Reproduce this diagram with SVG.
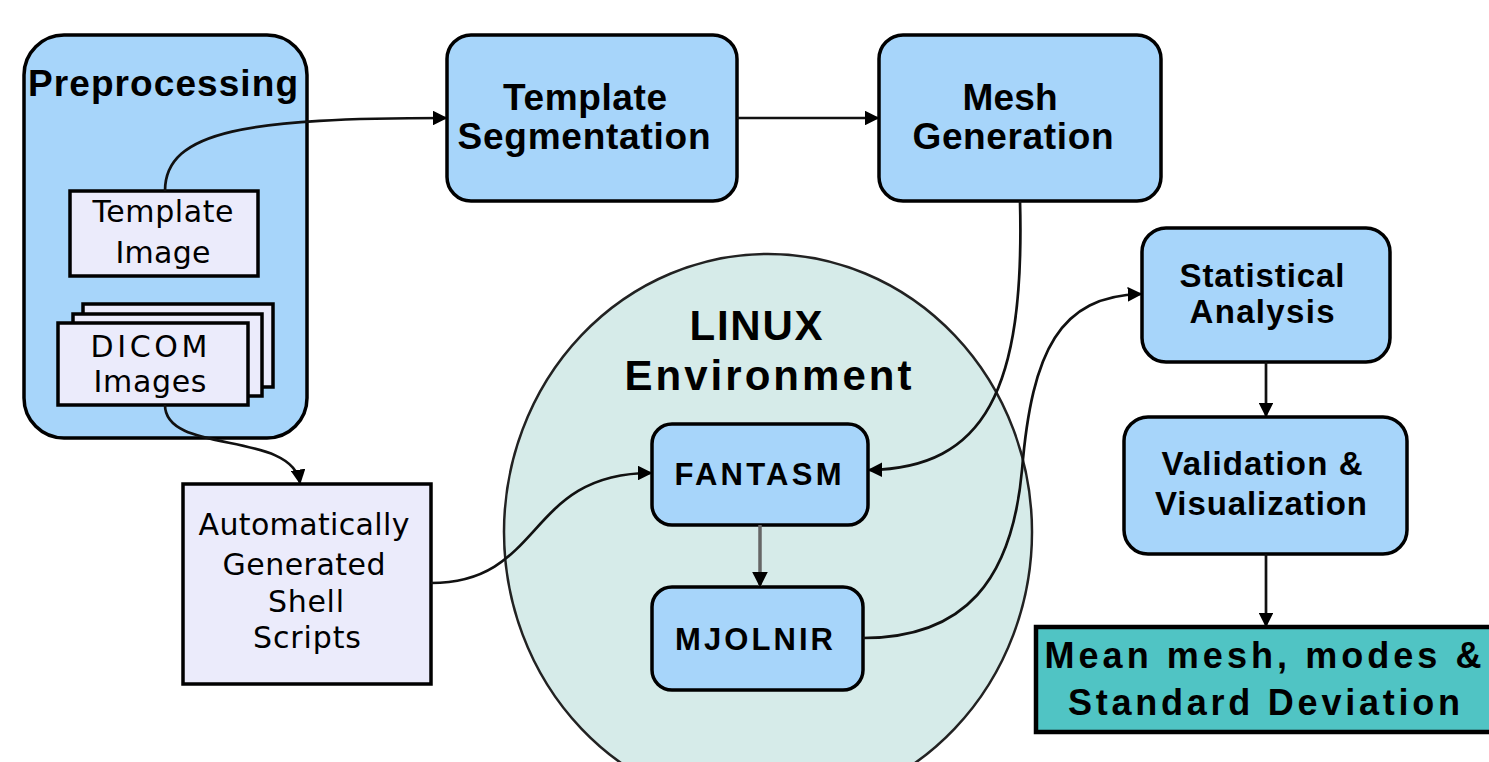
<svg xmlns="http://www.w3.org/2000/svg" width="1489" height="762" viewBox="0 0 1489 762">
<style>
.bg{fill:#ffffff}
.blue{fill:#a7d5fa;stroke:#000;stroke-width:3.5}
.lav{fill:#ebebfb;stroke:#000;stroke-width:3.5}
.env{fill:#d6ebe9;stroke:#222;stroke-width:2.5}
.teal{fill:#50c4c4;stroke:#000;stroke-width:4.5}
.tb{font-family:"Liberation Sans",Arial,sans-serif;font-weight:bold;fill:#000;text-anchor:middle}
.tr{font-family:"DejaVu Sans","Liberation Sans",sans-serif;font-weight:normal;fill:#000;text-anchor:middle;font-size:30px}
.c{fill:none;stroke:#111;stroke-width:2.7}
.cg{fill:none;stroke:#666;stroke-width:3.5}
</style>
<defs>
<marker id="ah" viewBox="0 0 10 10" refX="9" refY="5" markerWidth="5.5" markerHeight="5.5" markerUnits="strokeWidth" orient="auto">
<path d="M0,0 L10,5 L0,10 Z" fill="#000"/>
</marker>
<marker id="ahg" viewBox="0 0 10 10" refX="9" refY="5" markerWidth="4.5" markerHeight="4.5" markerUnits="strokeWidth" orient="auto">
<path d="M0,0 L10,5 L0,10 Z" fill="#000"/>
</marker>
</defs>
<rect class="bg" x="0" y="0" width="1489" height="762"/>

<g id="preprocessing">
<rect class="blue" x="24" y="35" width="283" height="403" rx="40" ry="40"/>
<text class="tb" x="163" y="96" font-size="37" textLength="270" lengthAdjust="spacing">Preprocessing</text>
</g>

<g id="template-image">
<rect class="lav" x="70" y="191" width="188" height="85"/>
<text class="tr" x="163" y="222" textLength="141" lengthAdjust="spacing">Template</text>
<text class="tr" x="163" y="263" textLength="95" lengthAdjust="spacing">Image</text>
</g>

<g id="dicom-images">
<rect class="lav" x="83" y="304" width="190" height="83"/>
<rect class="lav" x="73" y="314" width="189" height="82"/>
<rect class="lav" x="58" y="323" width="190" height="82"/>
<text class="tr" x="149" y="357" textLength="117" lengthAdjust="spacing">DICOM</text>
<text class="tr" x="150" y="392" textLength="113" lengthAdjust="spacing">Images</text>
</g>

<g id="template-segmentation">
<rect class="blue" x="447" y="35" width="290" height="166" rx="24" ry="24"/>
<text class="tb" x="585" y="110" font-size="37" textLength="164" lengthAdjust="spacing">Template</text>
<text class="tb" x="584" y="149" font-size="37" textLength="253" lengthAdjust="spacing">Segmentation</text>
</g>

<g id="mesh-generation">
<rect class="blue" x="879" y="35" width="282" height="166" rx="24" ry="24"/>
<text class="tb" x="1010" y="110" font-size="37" textLength="95" lengthAdjust="spacing">Mesh</text>
<text class="tb" x="1013" y="149" font-size="37" textLength="201" lengthAdjust="spacing">Generation</text>
</g>

<g id="linux-environment">
<ellipse class="env" cx="768" cy="532" rx="264" ry="278"/>
<text class="tb" x="756" y="340" font-size="42" textLength="133" lengthAdjust="spacing">LINUX</text>
<text class="tb" x="768" y="390" font-size="42" textLength="287" lengthAdjust="spacing">Environment</text>
</g>

<g id="fantasm">
<rect class="blue" x="652" y="424" width="216" height="101" rx="20" ry="20"/>
<text class="tb" x="758" y="485" font-size="31" textLength="167" lengthAdjust="spacing">FANTASM</text>
</g>

<g id="mjolnir">
<rect class="blue" x="652" y="587" width="211" height="103" rx="20" ry="20"/>
<text class="tb" x="754" y="650" font-size="31" textLength="158" lengthAdjust="spacing">MJOLNIR</text>
</g>

<g id="shell-scripts">
<rect class="lav" x="183" y="484" width="248" height="200"/>
<text class="tr" x="304" y="535" textLength="211" lengthAdjust="spacing">Automatically</text>
<text class="tr" x="304" y="575" textLength="163" lengthAdjust="spacing">Generated</text>
<text class="tr" x="306" y="612" textLength="76" lengthAdjust="spacing">Shell</text>
<text class="tr" x="307" y="648" textLength="108" lengthAdjust="spacing">Scripts</text>
</g>

<g id="statistical-analysis">
<rect class="blue" x="1142" y="228" width="248" height="134" rx="24" ry="24"/>
<text class="tb" x="1262" y="287" font-size="33" textLength="165" lengthAdjust="spacing">Statistical</text>
<text class="tb" x="1262" y="323" font-size="33" textLength="145" lengthAdjust="spacing">Analysis</text>
</g>

<g id="validation-visualization">
<rect class="blue" x="1124" y="417" width="283" height="137" rx="24" ry="24"/>
<text class="tb" x="1262" y="475" font-size="33" textLength="201" lengthAdjust="spacing">Validation &amp;</text>
<text class="tb" x="1261" y="515" font-size="33" textLength="212" lengthAdjust="spacing">Visualization</text>
</g>

<g id="mean-mesh">
<rect class="teal" x="1036" y="627" width="470" height="105"/>
<text class="tb" x="1263" y="668" font-size="36" textLength="437" lengthAdjust="spacing">Mean mesh, modes &amp;</text>
<text class="tb" x="1264" y="715" font-size="36" textLength="392" lengthAdjust="spacing">Standard Deviation</text>
</g>

<g id="connectors">
<path class="c" marker-end="url(#ah)" d="M165,191 C165,130 250,118 446,118"/>
<path class="c" marker-end="url(#ah)" d="M737,118 L878,118"/>
<path class="c" marker-end="url(#ah)" d="M165,405 C165,455 292,430 300,483"/>
<path class="c" marker-end="url(#ah)" d="M431,583 C545,583 525,473 651,473"/>
<path class="c" marker-end="url(#ah)" d="M1020,201 C1025,390 985,468 869,470"/>
<path class="cg" marker-end="url(#ahg)" d="M760,525 L760,586"/>
<path class="c" marker-end="url(#ah)" d="M863,638 C965,638 1012,580 1022,470 C1032,350 1060,296 1141,294"/>
<path class="c" marker-end="url(#ah)" d="M1266,362 L1266,416"/>
<path class="c" marker-end="url(#ah)" d="M1266,554 L1266,626"/>
</g>
</svg>
